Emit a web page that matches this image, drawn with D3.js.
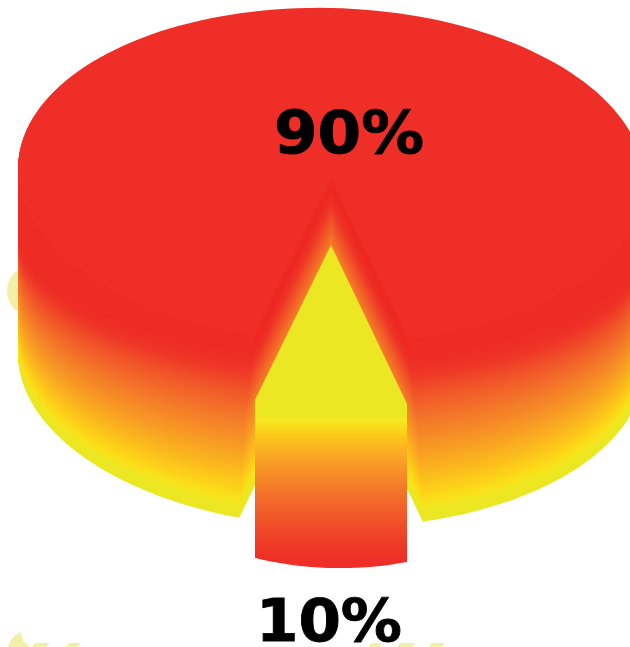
<!DOCTYPE html>
<html>
<head>
<meta charset="utf-8">
<script src="https://cdn.jsdelivr.net/npm/d3@7/dist/d3.min.js"></script>
<style>
  html, body { margin: 0; padding: 0; background: #fff; overflow: hidden; }
  svg { display: block; }
  text { font-family: "DejaVu Sans", sans-serif; font-weight: bold; fill: #000; stroke: #000; stroke-width: 0.9; }
</style>
</head>
<body>
<svg id="chart" width="630" height="647"></svg>
<script>
// Pie shares and their printed labels
const shareNames = ["main", "slice"];
const shareValues = [90, 10];
const shareLabels = ["90%", "10%"];

// Colour ramp down the thickness of the disc (0 = top face, 1 = underside)
const rampStops = [0, 0.3, 0.34, 0.38, 0.46, 0.58, 0.7, 0.8, 0.87, 0.925, 0.95, 1];
const rampColors = ["#ee2e27", "#ee2e27", "#ee3127", "#ef3a28", "#f1562a", "#f47a2a", "#f89c25", "#fbba1e", "#fdd01a", "#f8e31c", "#ece723", "#ebe723"];

// Colour ramp down the front of the pulled-out slice
const sliceRampStops = [0, 0.06, 0.1, 0.2, 0.36, 0.6, 0.86, 1];
const sliceRampColors = ["#ebe723", "#ebe723", "#f6e81f", "#fdc81a", "#f99f26", "#f36c2a", "#ef3f28", "#ee2e27"];

const svg = d3.select("#chart");

// Faint lettering showing around the disc
const ghostColor = "#f3efa6";
const ghostEllipses = [{ cx: 27, cy: 291, rx: 20, ry: 23 }];
const ghostPaths = [
  "M8,647 C10,640 15,634 21,632 L23,641 L30,647 Z",
  "M32,647 L35,643 L50,643 L46,647 Z",
  "M66,647 L69,643 L81,643 L77,647 Z",
  "M369,647 L371,643 L381,643 L380,647 Z",
  "M398,647 L400,643 L416,643 L412,647 Z",
  "M429,647 L432,643 L445,643 L441,647 Z"
];
svg.selectAll("ellipse.ghost").data(ghostEllipses).join("ellipse")
  .attr("class", "ghost")
  .attr("cx", d => d.cx).attr("cy", d => d.cy)
  .attr("rx", d => d.rx).attr("ry", d => d.ry)
  .attr("fill", ghostColor);
svg.selectAll("path.ghost").data(ghostPaths).join("path")
  .attr("class", "ghost").attr("d", d => d).attr("fill", ghostColor);

// Slice angles come from the shares
const pie = d3.pie().sort(null).value(d => d)
  .startAngle(Math.PI + Math.PI * shareValues[1] / 100)
  .endAngle(3 * Math.PI + Math.PI * shareValues[1] / 100);
const arcs = pie(shareValues);
const halfAngle = (arcs[1].endAngle - arcs[1].startAngle) / 2;

// Disc projection: each layer has its own centre and vertical radius
const cx = 331, rx = 313;
const discSkew = 1.2;
const centerY = d3.scaleLinear().domain([0, 0.3, 1]).range([175, 235, 360]);
const radiusY = d3.scaleLinear().domain([0, 0.3, 1]).range([167, 125, 167]);
const notchTip = d3.scaleLinear().domain([0, 0.3, 0.46, 0.6, 1]).range([178, 192, 222, 245, 330]);

// Slice projection, relative to its pulled-out tip
const tipX = 331, tipY = 245, sliceRx = 246, sliceRy = 165, sliceDepth = 158;
const sliceTilt = Math.tan(1.5 * Math.PI / 180);
const edgeSlope = Math.tan(halfAngle) * sliceRx / sliceRy;

const ramp = d3.scaleLinear().domain(rampStops).range(rampColors).interpolate(d3.interpolateRgb);
const line = d3.line();

// Outline of one layer: an ellipse with a V cut out of its front
function layerPoints(t) {
  const cy = centerY(t), ry = radiusY(t), apex = notchTip(t);
  // where the edge of the V meets the ellipse
  const k = edgeSlope, d = apex - cy;
  const A = k * k / (rx * rx) + 1 / (ry * ry);
  const B = 2 * d / (ry * ry);
  const C = d * d / (ry * ry) - 1;
  const u = (-B + Math.sqrt(B * B - 4 * A * C)) / (2 * A);
  const hitX = k * u, hitY = apex + u;
  const a0 = Math.atan2((hitY - cy) / ry, hitX / rx);
  const a1 = Math.PI - a0;
  const pts = [[cx, apex]];
  const n = 160;
  for (let i = 0; i <= n; i++) {
    // run the long way round, from the right cut over the top to the left cut
    const a = a0 - (i / n) * (a0 - (a1 - 2 * Math.PI));
    pts.push([cx + rx * Math.cos(a), cy + ry * Math.sin(a)]);
  }
  return pts;
}

const layerTs = d3.range(300, -1, -1).map(i => i / 300);
svg.append("g")
  .attr("transform", `translate(${cx} 175) skewY(${discSkew}) translate(${-cx} -175)`)
  .selectAll("path").data(layerTs).join("path")
  .attr("d", t => line(layerPoints(t)) + "Z")
  .attr("fill", t => ramp(t));

// Pulled-out slice: top face and front wall share one vertical gradient
const frontTop = tipY + sliceRy;
const gradScale = d3.scaleLinear().domain([0, 1]).range([frontTop - 5, frontTop + 150]);
const defs = svg.append("defs");
const grad = defs.append("linearGradient").attr("id", "sliceGrad")
  .attr("gradientUnits", "userSpaceOnUse")
  .attr("x1", 0).attr("x2", 0)
  .attr("y1", gradScale(0)).attr("y2", gradScale(1));
grad.selectAll("stop").data(sliceRampStops).join("stop")
  .attr("offset", d => d)
  .attr("stop-color", (d, i) => sliceRampColors[i]);

function slicePoint(angle, drop) {
  const x = sliceRx * Math.sin(angle);
  return [tipX + x, tipY + sliceRy * Math.cos(angle) + drop + x * sliceTilt];
}
const slicePts = [[tipX, tipY], slicePoint(halfAngle, 0)];
d3.range(0, 41).forEach(i => {
  slicePts.push(slicePoint(halfAngle - (i / 40) * 2 * halfAngle, sliceDepth));
});
slicePts.push(slicePoint(-halfAngle, 0));
svg.append("path")
  .attr("d", line(slicePts) + "Z")
  .attr("fill", "url(#sliceGrad)");

// Share labels
const labelPos = [{ x: 349, y: 153 }, { x: 329, y: 641 }];
svg.selectAll("text.share").data(shareLabels).join("text")
  .attr("class", "share")
  .attr("x", (d, i) => labelPos[i].x)
  .attr("y", (d, i) => labelPos[i].y)
  .attr("text-anchor", "middle")
  .attr("font-size", 59)
  .attr("textLength", (d, i) => [150, 146][i])
  .attr("lengthAdjust", "spacingAndGlyphs")
  .text(d => d);
</script>
</body>
</html>
